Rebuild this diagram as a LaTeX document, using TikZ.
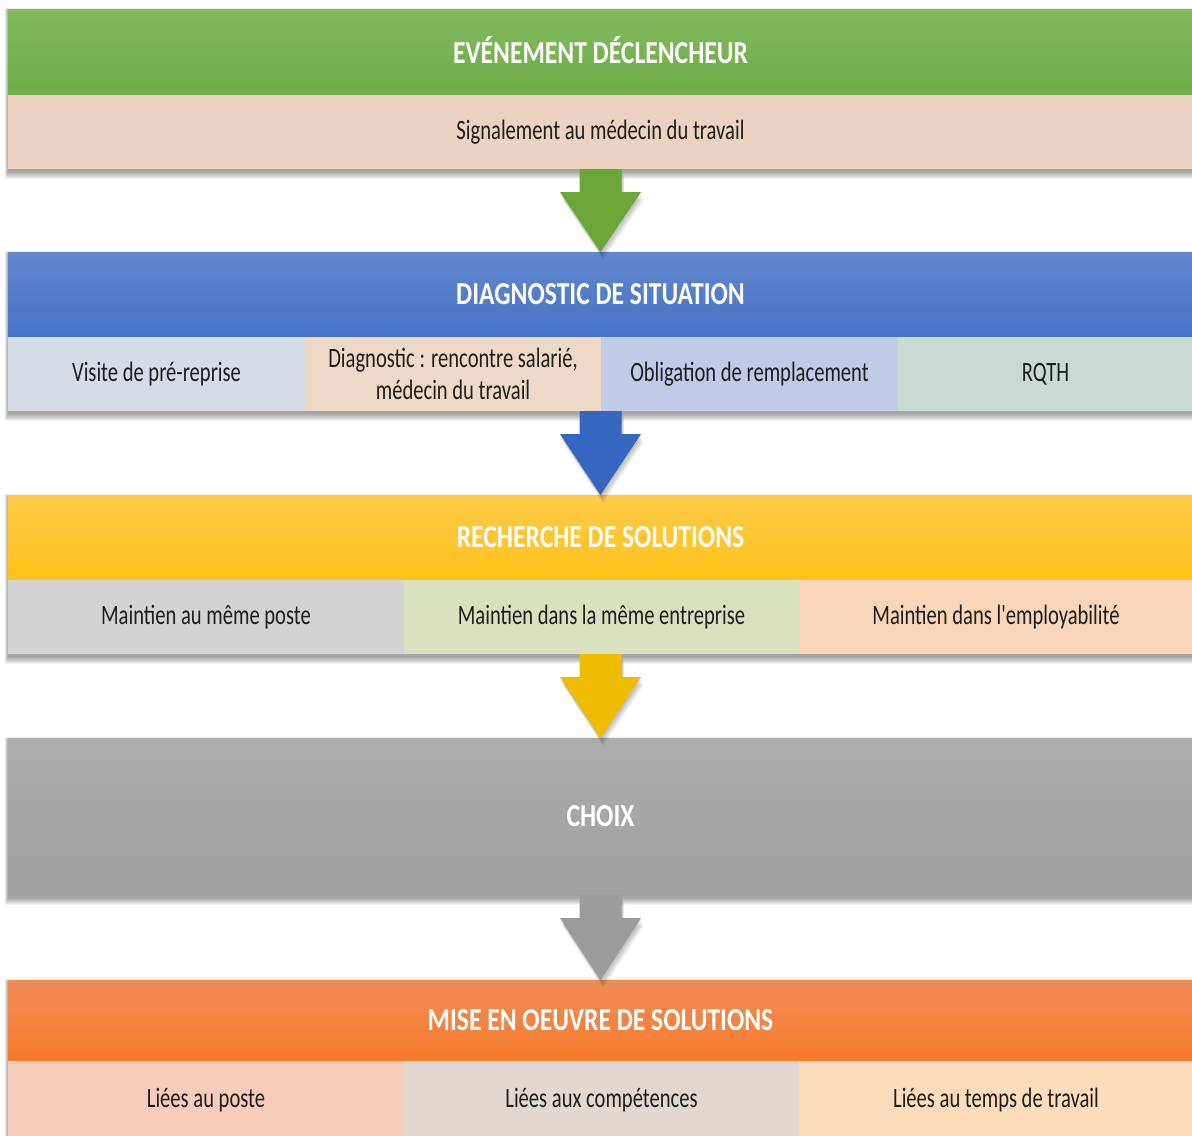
\documentclass[tikz,border=0pt]{standalone}
\usepackage{fontspec}
\setmainfont{Carlito}[FakeStretch=0.735, Ligatures=TeXOff]
\newfontfamily\headfont{Carlito}[FakeStretch=0.8]
\usetikzlibrary{calc}

% palette
\definecolor{grnT}{HTML}{80B95F}
\definecolor{grnB}{HTML}{70AD47}
\definecolor{grnA}{HTML}{6AA738}
\definecolor{bluT}{HTML}{6387CE}
\definecolor{bluB}{HTML}{4673C6}
\definecolor{bluA}{HTML}{3566C0}
\definecolor{yelT}{HTML}{FFCB48}
\definecolor{yelB}{HTML}{FFC11A}
\definecolor{yelA}{HTML}{F0BC00}
\definecolor{gryT}{HTML}{ADADAD}
\definecolor{gryB}{HTML}{A0A0A0}
\definecolor{gryA}{HTML}{9B9B9B}
\definecolor{orgT}{HTML}{F08D57}
\definecolor{orgB}{HTML}{F57B2C}
\definecolor{peach}{HTML}{ECD3C1}
\definecolor{cSlate}{HTML}{D6DCE5}
\definecolor{cSand}{HTML}{EDD9C6}
\definecolor{cLav}{HTML}{C1CAE7}
\definecolor{cSage}{HTML}{C8DAD1}
\definecolor{cGrey}{HTML}{D3D3D5}
\definecolor{cOlive}{HTML}{DAE1BF}
\definecolor{cApri}{HTML}{F9D5B9}
\definecolor{cRose}{HTML}{F7CCBB}
\definecolor{cTaupe}{HTML}{E3D8CF}
\definecolor{cCream}{HTML}{FCDCBB}
\definecolor{ink}{HTML}{1E1E1E}

% a box given by its corners in pixel units (x right, y down)
\newcommand\cell[7]{%
  \pgfmathsetmacro\cw{(#4-#2)*0.5}%
  \pgfmathsetmacro\ch{(#5-#3)*0.5}%
  \node[#6, minimum width=\cw pt, minimum height=\ch pt, anchor=north west] (#1) at (#2,#3) {#7};%
}

% soft shadow under a band
\newcommand\softshadow[4]{%
  \foreach \i in {0,...,7}{%
    \fill[black,opacity=0.05] (#1-0.5*\i,#2+2-0.4*\i) rectangle (#3+0.5*\i,#4+3+\i);%
  }%
}

% block arrow from the bottom of one node to the top of the next
\newcommand\flowarrow[3]{%
  \foreach \s in {1,...,7}{%
    \fill[black,opacity=0.04] let \p1=(#1), \p2=(#2) in
      (\x2-10.5pt+0.2pt*\s,\y1-0.6pt*\s) -- (\x2+10.5pt+0.2pt*\s,\y1-0.6pt*\s)
      -- (\x2+10.5pt+0.2pt*\s,\y1-11.5pt-0.6pt*\s) -- (\x2+20.25pt+0.2pt*\s,\y1-11.5pt-0.6pt*\s)
      -- (\x2+0.2pt*\s,\y2-0.6pt*\s) -- (\x2-20.25pt+0.2pt*\s,\y1-11.5pt-0.6pt*\s)
      -- (\x2-10.5pt+0.2pt*\s,\y1-11.5pt-0.6pt*\s) -- cycle;%
  }%
  \fill[#3] let \p1=(#1), \p2=(#2) in
    (\x2-10.5pt,\y1) -- (\x2+10.5pt,\y1) -- (\x2+10.5pt,\y1-11.5pt)
    -- (\x2+20.25pt,\y1-11.5pt) -- (\x2,\y2) -- (\x2-20.25pt,\y1-11.5pt)
    -- (\x2-10.5pt,\y1-11.5pt) -- cycle;%
}

\tikzset{
  box/.style={rectangle, inner sep=0pt, outer sep=0pt, draw=none, align=center},
  head/.style={box, text=white, font=\headfont\bfseries\fontsize{16}{19}\selectfont},
  item/.style={box, text=ink, font=\fontsize{14}{16}\selectfont},
}

\begin{document}
\begin{tikzpicture}[x=0.5pt,y=-0.5pt]
\useasboundingbox (0,0) rectangle (1192,1135);
\clip (0,0) rectangle (1192,1135);
\fill[white] (0,0) rectangle (1192,1135);

% shadows of the five bands
\softshadow{8}{9}{1193}{169}
\softshadow{8}{252}{1193}{411}
\softshadow{8}{495}{1193}{654}
\softshadow{8}{738}{1193}{895}
\softshadow{8}{980}{1193}{1140}

% 1 - triggering event
\cell{h1}{8}{9}{1193}{95}{head, top color=grnT, bottom color=grnB}{\raisebox{2pt}{EVÉNEMENT DÉCLENCHEUR}}
\cell{sig}{8}{95}{1193}{169}{item, fill=peach}{Signalement au médecin du travail}

% 2 - diagnosis
\cell{h2}{8}{252}{1193}{337}{head, top color=bluT, bottom color=bluB}{DIAGNOSTIC DE SITUATION}
\cell{visite}{8}{337}{305}{411}{item, fill=cSlate}{Visite de pré-reprise}
\cell{diag}{305}{337}{601}{411}{item, fill=cSand}{Diagnostic : rencontre salarié,\\médecin du travail}
\cell{oblig}{601}{337}{898}{411}{item, fill=cLav}{Obligation de remplacement}
\cell{rqth}{898}{337}{1193}{411}{item, fill=cSage}{RQTH}

% 3 - looking for solutions
\cell{h3}{8}{495}{1193}{580}{head, top color=yelT, bottom color=yelB}{RECHERCHE DE SOLUTIONS}
\cell{poste}{8}{580}{404}{654}{item, fill=cGrey}{Maintien au même poste}
\cell{entr}{404}{580}{799}{654}{item, fill=cOlive}{Maintien dans la même entreprise}
\cell{empl}{799}{580}{1193}{654}{item, fill=cApri}{Maintien dans l'employabilité}

% 4 - choice
\cell{choix}{8}{738}{1193}{895}{head, top color=gryT, bottom color=gryB}{CHOIX}

% 5 - implementation
\cell{h5}{8}{980}{1193}{1061}{head, top color=orgT, bottom color=orgB}{MISE EN OEUVRE DE SOLUTIONS}
\cell{lposte}{8}{1061}{404}{1140}{item, fill=cRose}{Liées au poste}
\cell{lcomp}{404}{1061}{799}{1140}{item, fill=cTaupe}{Liées aux compétences}
\cell{ltemps}{799}{1061}{1193}{1140}{item, fill=cCream}{Liées au temps de travail}

% connectors
\flowarrow{sig.south}{h2.north}{grnA}
\flowarrow{diag.south east}{h3.north}{bluA}
\flowarrow{entr.south}{choix.north}{yelA}
\flowarrow{choix.south}{h5.north}{gryA}
\end{tikzpicture}
\end{document}
